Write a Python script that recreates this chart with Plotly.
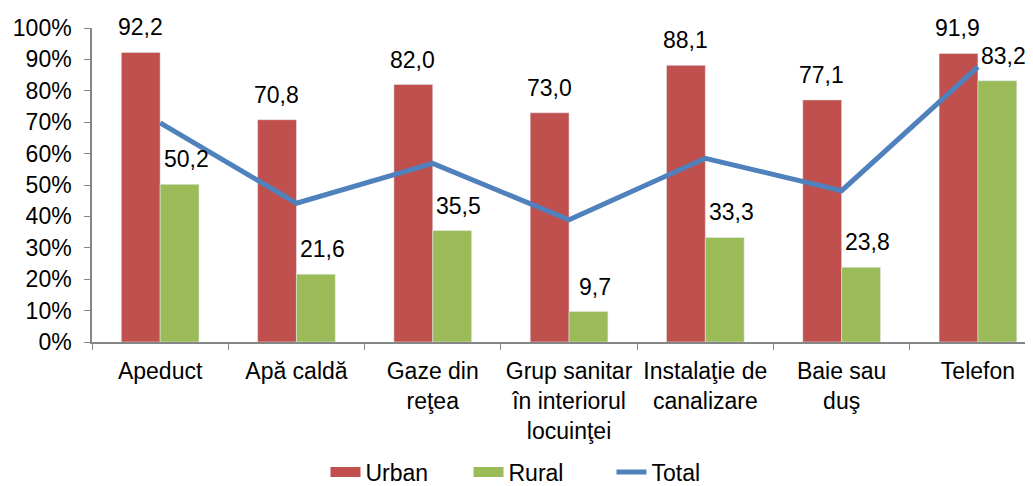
import plotly.graph_objects as go

categories = ["Apeduct", "Apă caldă", "Gaze din<br>reţea", "Grup sanitar<br>în interiorul<br>locuinţei",
              "Instalaţie de<br>canalizare", "Baie sau<br>duş", "Telefon"]
urban = [92.2, 70.8, 82.0, 73.0, 88.1, 77.1, 91.9]
rural = [50.2, 21.6, 35.5, 9.7, 33.3, 23.8, 83.2]
total = [69.8, 44.2, 56.9, 38.9, 58.5, 48.2, 87.6]
y_ticks = [0, 10, 20, 30, 40, 50, 60, 70, 80, 90, 100]
y_tick_text = [f"{v}%" for v in y_ticks]

RED = "#C0504D"
GREEN = "#9BBB59"
BLUE = "#4F81BD"
FONT = "Liberation Sans, Arial, sans-serif"

fig = go.Figure()
fig.add_trace(go.Bar(x=categories, y=urban, name="Urban", marker=dict(color=RED), showlegend=False))
fig.add_trace(go.Bar(x=categories, y=rural, name="Rural", marker=dict(color=GREEN), showlegend=False))
fig.add_trace(go.Scatter(x=categories, y=total, name="Total", mode="lines",
                         line=dict(color=BLUE, width=5), showlegend=False))

# legend proxies
fig.add_trace(go.Scatter(x=[None], y=[None], mode="lines", name="Urban", line=dict(color=RED, width=12)))
fig.add_trace(go.Scatter(x=[None], y=[None], mode="lines", name="Rural", line=dict(color=GREEN, width=12)))
fig.add_trace(go.Scatter(x=[None], y=[None], mode="lines", name="Total", line=dict(color=BLUE, width=5)))

fmt = lambda v: f"{v:.1f}".replace(".", ",")
for c, u, r in zip(categories, urban, rural):
    fig.add_annotation(x=c, y=u, text=fmt(u), showarrow=False, xshift=-20, yshift=10,
                       yanchor="bottom", font=dict(size=23, color="black", family=FONT))
    fig.add_annotation(x=c, y=r, text=fmt(r), showarrow=False, xshift=26, yshift=10,
                       yanchor="bottom", font=dict(size=23, color="black", family=FONT))

# page body adds an 8px offset; figure sized to fit the 1033x486 window
fig.update_layout(
    width=1025, height=478,
    margin=dict(l=84, r=0, t=20, b=144, autoexpand=False),
    paper_bgcolor="white", plot_bgcolor="white",
    font=dict(family=FONT, size=23, color="black"),
    barmode="group", bargap=0.43, bargroupgap=0,
    legend=dict(orientation="h", xref="container", yref="container", x=532 / 1025, y=1 - 464 / 478,
                xanchor="center", yanchor="middle", font=dict(size=23),
                entrywidth=98, entrywidthmode="pixels", traceorder="normal"),
)
fig.update_xaxes(range=[-0.5, 6.404], showline=True, linecolor="#868686", linewidth=1.5,
                 ticks="outside", tickson="boundaries", ticklen=6, tickcolor="#868686",
                 showgrid=False, tickangle=0, tickfont=dict(size=23), ticklabelstandoff=8,
                 automargin=False)
fig.update_yaxes(range=[0, 100], tickvals=y_ticks, ticktext=y_tick_text, showline=True,
                 linecolor="#868686", linewidth=1.5, ticks="outside", ticklen=6,
                 tickcolor="#868686", showgrid=False, zeroline=False, tickfont=dict(size=23),
                 ticklabelstandoff=8, automargin=False)

fig.write_html("out.html")
